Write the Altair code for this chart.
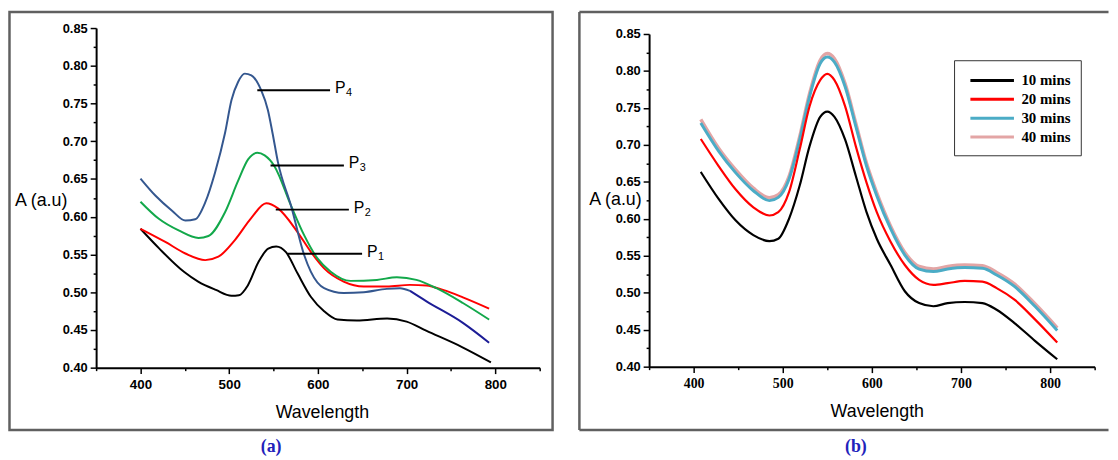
import altair as alt
import pandas as pd

# ---------------- data: panel (a) ----------------
P1_WL = [400, 421, 449, 465, 485, 502.6, 511, 521, 533, 544, 553, 564, 577, 592, 607, 622, 644, 678, 700, 722, 763, 795]
P1_A = [0.584, 0.558, 0.527, 0.514, 0.503, 0.4953, 0.496, 0.509, 0.540, 0.5576, 0.5605, 0.553, 0.525, 0.494, 0.4748,
        0.4638, 0.4626, 0.4652, 0.461, 0.449, 0.427, 0.407]

P2_WL = [400, 428, 450.6, 473, 487.8, 506.4, 525, 541.7, 555, 577, 592, 607, 629, 651.7, 677.7, 703.7, 722.4, 741, 763.4, 793]
P2_A = [0.584, 0.5666, 0.5513, 0.5425, 0.547, 0.569, 0.5985, 0.6178, 0.611, 0.5797, 0.5535, 0.5316, 0.5141, 0.5076,
        0.5076, 0.5097, 0.5089, 0.503, 0.4931, 0.4782]

P3_WL = [400, 420.7, 443, 465.4, 476.6, 495.3, 510, 521.3, 531.7, 540, 551, 569.7, 584.6, 599.5, 614.4, 636.7, 666.5,
         689, 711, 733.6, 763.4, 793]
P3_A = [0.6199, 0.5972, 0.5818, 0.5719, 0.5745, 0.606, 0.6474, 0.6759, 0.6847, 0.6812, 0.667, 0.6146, 0.5753, 0.5447,
        0.5272, 0.515, 0.5163, 0.5198, 0.5163, 0.5053, 0.4857, 0.4637]

P4_WL = [400, 417, 435.6, 450.6, 461.7, 473, 484, 495.3, 502.6, 510, 517.6, 525, 536, 543.6, 549, 555, 569.7, 584.6,
         592, 607, 629, 651.7, 677.7, 692.6, 703.7]
P4_A = [0.6506, 0.6278, 0.608, 0.595, 0.5966, 0.619, 0.6584, 0.7109, 0.7546, 0.7786, 0.7896, 0.7874, 0.7677, 0.7415,
        0.71, 0.672, 0.6146, 0.549, 0.5272, 0.5053, 0.4988, 0.4999, 0.5044, 0.5053, 0.5018]
P4_TAIL_WL = [703.7, 722.4, 763.4, 793]
P4_TAIL_A = [0.5018, 0.4879, 0.4594, 0.4331]

# annotation leaders (a)
LEAD_X0 = [531.7, 546.6, 552.5, 566]
LEAD_X1 = [613.7, 629.3, 634.9, 649.8]
LEAD_Y = [0.7677, 0.668, 0.6094, 0.5509]
LABEL_MAIN = ["P", "P", "P", "P"]
LABEL_SUB = ["4", "3", "2", "1"]

# ---------------- data: panel (b) ----------------
B_WL = [408, 428, 447, 467, 485, 495, 507, 519, 530, 542, 550, 558, 570, 582, 594, 605.5, 621, 637, 653, 669, 685,
        704, 724, 740, 760, 783, 808]
T10_A = [0.6634, 0.627, 0.598, 0.578, 0.5697, 0.573, 0.600, 0.645, 0.698, 0.738, 0.745, 0.738, 0.707, 0.658, 0.609,
         0.573, 0.5375, 0.502, 0.486, 0.4817, 0.486, 0.4875, 0.486, 0.477, 0.459, 0.435, 0.410]
T20_A = [0.708, 0.6714, 0.640, 0.6156, 0.6045, 0.609, 0.636, 0.694, 0.752, 0.7875, 0.796, 0.7875, 0.752, 0.698, 0.649,
         0.609, 0.569, 0.5375, 0.5174, 0.5107, 0.513, 0.516, 0.515, 0.5063, 0.4906, 0.464, 0.4326]
T30_A = [0.7295, 0.6915, 0.6625, 0.638, 0.6246, 0.629, 0.6536, 0.707, 0.765, 0.810, 0.8188, 0.812, 0.7786, 0.725,
         0.6714, 0.6313, 0.5866, 0.551, 0.532, 0.5286, 0.532, 0.534, 0.533, 0.524, 0.5085, 0.4817, 0.449]
T40_A = [0.7345, 0.6955, 0.6665, 0.6415, 0.6285, 0.6325, 0.657, 0.711, 0.769, 0.8145, 0.8235, 0.8165, 0.7825, 0.729,
         0.675, 0.635, 0.590, 0.5545, 0.5355, 0.532, 0.5355, 0.5375, 0.5365, 0.5275, 0.512, 0.485, 0.4525]
TIMES = ["10 mins", "20 mins", "30 mins", "40 mins"]
TIME_COLORS = ["#000000", "#ff0000", "#4bacc6", "#e3a5a5"]

# axis ticks
X_TICKS = [350, 400, 450, 500, 550, 600, 650, 700, 750, 800, 850]
Y_TICKS = [0.40, 0.425, 0.45, 0.475, 0.50, 0.525, 0.55, 0.575, 0.60, 0.625, 0.65, 0.675, 0.70, 0.725, 0.75,
           0.775, 0.80, 0.825, 0.85]

SANS = "Liberation Sans"
SERIF = "Liberation Serif"
FRAME = "#606060"
BLUE = "#2222bb"

WA, HA = 448, 337
WB, HB = 450, 336
TOP = -22.3

xs = alt.Scale(domain=[350, 850], nice=False, zero=False)
ys_a = alt.Scale(domain=[0.40, 0.85], nice=False, zero=False, range=[HA, -6])
ys_b = alt.Scale(domain=[0.40, 0.85], nice=False, zero=False)

Y_MAJOR = "abs(datum.value*20 - round(datum.value*20)) < 0.001"
X_MAJOR = "datum.value % 100 == 0"


def x_axis(title_x, label_font, label_size):
    return alt.Axis(values=X_TICKS, title="Wavelength", titleX=title_x, titleY=45, titleAlign="center",
                    titleBaseline="middle", titleFont=SANS, titleFontSize=18, titleFontWeight="normal",
                    titleColor="black", labelExpr=X_MAJOR + " ? datum.label : ''",
                    tickSize={"condition": {"test": X_MAJOR, "value": 6}, "value": 3},
                    labelFont=label_font, labelFontSize=label_size, labelFontWeight="bold", labelColor="black",
                    labelPadding=4, labelFlush=False, labelOverlap=False, grid=False, domain=True, ticks=True,
                    domainColor="black", domainWidth=2, tickColor="black", tickWidth=1.5, zindex=1)


def y_axis(title_x, title_y):
    return alt.Axis(values=Y_TICKS, title="A (a.u)", titleAngle=0, titleX=title_x, titleY=title_y,
                    titleAlign="center", titleBaseline="middle", titleFont=SANS, titleFontSize=18,
                    titleFontWeight="normal", titleColor="black",
                    labelExpr=Y_MAJOR + " ? format(datum.value, '.2f') : ''",
                    tickSize={"condition": {"test": Y_MAJOR, "value": 6}, "value": 3},
                    labelFont=SANS, labelFontSize=13, labelFontWeight="bold", labelColor="black",
                    labelPadding=3, labelFlush=False, labelOverlap=False, grid=False, domain=True, ticks=True,
                    domainColor="black", domainWidth=2, tickColor="black", tickWidth=1.5, zindex=1)


# ---------------- panel (a) ----------------
rows = []
for name, wl, a in [("P1", P1_WL, P1_A), ("P2", P2_WL, P2_A), ("P3", P3_WL, P3_A), ("P4", P4_WL, P4_A),
                    ("P4t", P4_TAIL_WL, P4_TAIL_A)]:
    for w, v in zip(wl, a):
        rows.append({"wl": w, "A": v, "series": name})
df_a = pd.DataFrame(rows)

xa = x_axis(228, SANS, 13.5)
ya = y_axis(-56, 168)

lines_a = alt.Chart(df_a).mark_line(strokeWidth=2, interpolate="monotone").encode(
    x=alt.X("wl:Q", scale=xs, axis=xa),
    y=alt.Y("A:Q", scale=ys_a, axis=ya),
    color=alt.Color("series:N", legend=None,
                    scale=alt.Scale(domain=["P1", "P2", "P3", "P4", "P4t"],
                                    range=["#000000", "#ff0000", "#12a84a", "#34578f", "#1c1c96"])),
    detail="series:N",
)

ann = pd.DataFrame({"x0": LEAD_X0, "x1": LEAD_X1, "y": LEAD_Y, "main": LABEL_MAIN, "sub": LABEL_SUB})
leaders = alt.Chart(ann).mark_rule(color="black", strokeWidth=2).encode(
    x=alt.X("x0:Q", scale=xs, axis=xa), x2="x1:Q", y=alt.Y("y:Q", scale=ys_a, axis=ya))
ptext = alt.Chart(ann).mark_text(align="left", baseline="middle", dx=5, dy=-2, fontSize=16, font=SANS,
                                 color="black").encode(
    x=alt.X("x1:Q", scale=xs, axis=xa), y=alt.Y("y:Q", scale=ys_a, axis=ya), text="main:N")
stext = alt.Chart(ann).mark_text(align="left", baseline="middle", dx=16, dy=3, fontSize=11, font=SANS,
                                 color="black").encode(
    x=alt.X("x1:Q", scale=xs, axis=xa), y=alt.Y("y:Q", scale=ys_a, axis=ya), text="sub:N")

one = pd.DataFrame({"f": [0]})
frame_a = alt.Chart(one).mark_rect(filled=False, stroke=FRAME, strokeWidth=2.5).encode(
    x=alt.value(-87.5), x2=alt.value(WA + 13), y=alt.value(TOP), y2=alt.value(HA + 63))

panel_a = alt.layer(frame_a, lines_a, leaders, ptext, stext).properties(
    width=WA, height=HA,
    title=alt.TitleParams("(a)", orient="bottom", anchor="middle", frame="bounds", dx=-10, offset=7,
                          font=SERIF, fontSize=18, fontWeight="bold", color=BLUE))

# ---------------- panel (b) ----------------
xb = x_axis(230, SERIF, 14)
yb = y_axis(-34.5, 167)

legend_b = alt.Legend(title=None, orient="none", legendX=308, legendY=26.5, fillColor="white",
                      strokeColor="#333333", padding=10, symbolType="M-2.444,0L2.444,0", symbolSize=324,
                      symbolStrokeWidth=3, symbolOffset=18, labelOffset=19, labelFont=SERIF, labelFontSize=15,
                      labelFontWeight="bold", labelColor="black", rowPadding=0)
color_b = alt.Color("time:N", scale=alt.Scale(domain=TIMES, range=TIME_COLORS), legend=legend_b)

layers_b = []
for t, a, sw in [("40 mins", T40_A, 3.5), ("30 mins", T30_A, 3), ("20 mins", T20_A, 2.2), ("10 mins", T10_A, 2.2)]:
    d = pd.DataFrame({"wl": B_WL, "A": a, "time": t})
    layers_b.append(alt.Chart(d).mark_line(strokeWidth=sw, interpolate="monotone").encode(
        x=alt.X("wl:Q", scale=xs, axis=xb), y=alt.Y("A:Q", scale=ys_b, axis=yb), color=color_b))

RIGHT_B = 464
frame_b_top = alt.Chart(one).mark_rule(color=FRAME, strokeWidth=2.5).encode(
    x=alt.value(-70.4), x2=alt.value(RIGHT_B), y=alt.value(TOP))
frame_b_left = alt.Chart(one).mark_rule(color=FRAME, strokeWidth=2.5).encode(
    x=alt.value(-70.4), y=alt.value(TOP), y2=alt.value(HB + 64))
frame_b_bottom = alt.Chart(one).mark_rule(color=FRAME, strokeWidth=2.5).encode(
    x=alt.value(-70.4), x2=alt.value(RIGHT_B), y=alt.value(HB + 64))

panel_b = alt.layer(frame_b_top, frame_b_left, frame_b_bottom, *layers_b).properties(
    width=WB, height=HB,
    title=alt.TitleParams("(b)", orient="bottom", anchor="middle", frame="bounds", dx=12, offset=7,
                          font=SERIF, fontSize=18, fontWeight="bold", color=BLUE))

chart = alt.hconcat(panel_a, panel_b, spacing=23.5).resolve_scale(color="independent").properties(
    padding=0, background="white").configure_view(strokeWidth=0)

chart.save("out.html", embed_options={"renderer": "svg", "actions": False})
